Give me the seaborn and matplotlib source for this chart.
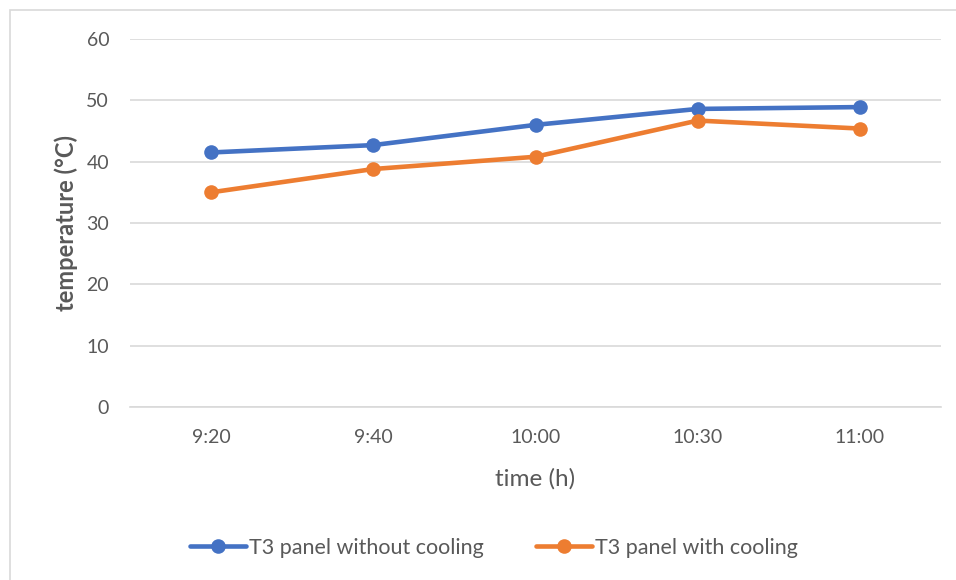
import matplotlib
matplotlib.use("Agg")
import matplotlib.pyplot as plt
from matplotlib.patches import Rectangle
import seaborn as sns
import pandas as pd

times = ["9:20", "9:40", "10:00", "10:30", "11:00"]
without_cooling = [41.5, 42.7, 46.0, 48.6, 48.9]
with_cooling = [35.0, 38.8, 40.8, 46.7, 45.4]
series_names = ["T3 panel without cooling", "T3 panel with cooling"]
y_ticks = [0, 10, 20, 30, 40, 50, 60]

sns.set_theme(style="white")
plt.rcParams["font.family"] = ["Lato", "DejaVu Sans"]

df = pd.DataFrame({
    "time": times * 2,
    "temperature": without_cooling + with_cooling,
    "series": [series_names[0]] * len(times) + [series_names[1]] * len(times),
})

text_color = "#595959"
grid_color = "#d9d9d9"
palette = {series_names[0]: "#4472c4", series_names[1]: "#ed7d31"}

fig = plt.figure(figsize=(9.56, 5.8), dpi=100)
ax = fig.add_axes([130 / 956, 1 - 407 / 580, (941 - 130) / 956, (407 - 39) / 580])

sns.lineplot(
    data=df, x="time", y="temperature", hue="series", palette=palette,
    marker="o", markersize=10.5, markeredgewidth=0, linewidth=3.3,
    sort=False, ax=ax,
)

ax.set_xlim(-0.5, len(times) - 0.5)
ax.set_ylim(0, 60)
ax.set_yticks(y_ticks)
ax.yaxis.grid(True, color=grid_color, linewidth=1.2)
ax.set_axisbelow(True)
for side in ["top", "right", "left"]:
    ax.spines[side].set_visible(False)
ax.spines["bottom"].set_color(grid_color)
ax.spines["bottom"].set_linewidth(1.2)
ax.tick_params(axis="both", length=0, labelsize=14, colors=text_color)
ax.tick_params(axis="x", pad=16)
ax.tick_params(axis="y", pad=15)

ax.set_xlabel("time (h)", fontsize=17.5, color=text_color, labelpad=16)
ax.set_ylabel("temperature (°C)", fontsize=17, color=text_color,
              fontweight="bold", labelpad=6)

handles, labels = ax.get_legend_handles_labels()
ax.legend(handles, labels, loc="center", bbox_to_anchor=(494 / 956, 1 - 548 / 580),
          bbox_transform=fig.transFigure, ncol=2, frameon=False,
          fontsize=15.5, labelcolor=text_color, handlelength=2.6,
          handletextpad=0.15, columnspacing=2.4)

fig.patches.append(Rectangle((10 / 956, -0.1), 1.2, 1.1 - 10 / 580,
                             transform=fig.transFigure, fill=False,
                             edgecolor=grid_color, linewidth=1.2))

fig.savefig("out.png", dpi=100, facecolor="white")
